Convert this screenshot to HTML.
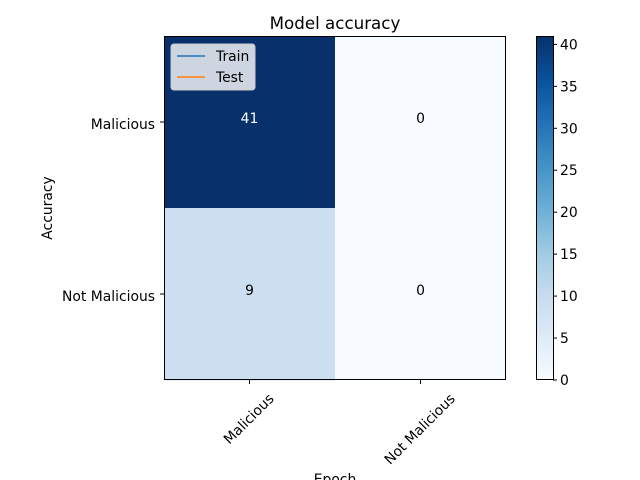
<!DOCTYPE html>
<html><head><meta charset="utf-8">
<style>
body{margin:0;background:#fff;}
svg{display:block;font-family:"DejaVu Sans","Liberation Sans",sans-serif;}
</style></head>
<body>
<svg id="chart" width="640" height="480" viewBox="0 0 640 480">
<rect width="640" height="480" fill="#fff"/>
<defs>
<linearGradient id="cbgrad" x1="0" y1="1" x2="0" y2="0">
<stop offset="0" stop-color="#f7fbff"/>
<stop offset="0.125" stop-color="#deebf7"/>
<stop offset="0.25" stop-color="#c6dbef"/>
<stop offset="0.375" stop-color="#9ecae1"/>
<stop offset="0.5" stop-color="#6baed6"/>
<stop offset="0.625" stop-color="#4292c6"/>
<stop offset="0.75" stop-color="#2171b5"/>
<stop offset="0.875" stop-color="#08519c"/>
<stop offset="1" stop-color="#08306b"/>
</linearGradient>
</defs>
<g id="cells"></g>
<rect x="164.5" y="36.5" width="341" height="343" fill="none" stroke="#000" stroke-width="1"/>
<g id="ticks"></g>
<text x="335" y="29" font-size="16.7" text-anchor="middle">Model accuracy</text>
<text x="335" y="484" font-size="13.9" text-anchor="middle">Epoch</text>
<text transform="translate(52,208) rotate(-90)" font-size="13.9" text-anchor="middle">Accuracy</text>
<g>
<rect x="171" y="44" width="84" height="46" rx="3" fill="#fff" fill-opacity="0.8" stroke="#ccc"/>
<line x1="177" y1="56" x2="205" y2="56" stroke="#1f77b4" stroke-width="1.5"/>
<text x="216" y="61" font-size="13.9">Train</text>
<line x1="177" y1="77" x2="205" y2="77" stroke="#ff7f0e" stroke-width="1.5"/>
<text x="216" y="82" font-size="13.9">Test</text>
</g>
<rect x="536" y="36" width="17" height="344" fill="url(#cbgrad)"/>
<rect x="536.5" y="36.5" width="17" height="343" fill="none" stroke="#000"/>
<g id="cbticks"></g>
</svg>
<script>
const rowLabels = ["Malicious", "Not Malicious"];
const colLabels = ["Malicious", "Not Malicious"];
const cellValues = [[41, 0], [9, 0]];
const cbTicks = [0, 5, 10, 15, 20, 25, 30, 35, 40];
const cbMax = 41;

const NS = "http://www.w3.org/2000/svg";
const X0 = 164, Y0 = 36, W = 342, H = 344;
const cw = W / colLabels.length, ch = H / rowLabels.length;
const stops = [[247,251,255],[222,235,247],[198,219,239],[158,202,225],[107,174,214],[66,146,198],[33,113,181],[8,81,156],[8,48,107]];
function color(v){
  let t = Math.max(0, Math.min(1, v / cbMax)) * (stops.length - 1);
  let i = Math.min(Math.floor(t), stops.length - 2), f = t - i;
  const c = stops[i].map((a, k) => Math.round(a + (stops[i+1][k] - a) * f));
  return "rgb(" + c.join(",") + ")";
}
function mk(tag, attrs, parent){
  const e = document.createElementNS(NS, tag);
  for (const k in attrs) e.setAttribute(k, attrs[k]);
  parent.appendChild(e); return e;
}
const cells = document.getElementById("cells");
const ticks = document.getElementById("ticks");
const thresh = cbMax / 2;
for (let r = 0; r < rowLabels.length; r++) {
  for (let c = 0; c < colLabels.length; c++) {
    const v = cellValues[r][c];
    const rect = mk("rect", {x: X0 + c * cw, y: Y0 + r * ch, width: cw + 0.5, height: ch + 0.5, fill: color(v)}, cells);
    
    
    const t = mk("text", {x: X0 + (c + 0.5) * cw, y: Y0 + (r + 0.5) * ch + 1, "font-size": 13.9, "text-anchor": "middle", fill: v > thresh ? "#fff" : "#000"}, cells);
    t.textContent = v;
    
    
  }
}
rowLabels.forEach((lab, i) => {
  const y = Y0 + (i + 0.5) * ch;
  mk("line", {x1: X0 - 4, y1: y, x2: X0, y2: y, stroke: "#000"}, ticks);
  const t = mk("text", {x: X0 - 9, y: y + 7, "font-size": 13.9, "text-anchor": "end"}, ticks);
  t.textContent = lab;
  
  
});
colLabels.forEach((lab, i) => {
  const x = X0 + (i + 0.5) * cw;
  mk("line", {x1: x, y1: Y0 + H, x2: x, y2: Y0 + H + 4, stroke: "#000"}, ticks);
  const t = mk("text", {"font-size": 13.9, "text-anchor": "middle"}, ticks);
  t.textContent = lab;
  
  
  const len = t.getComputedTextLength();
  const cy = 391 + (len + 14) * 0.7071 / 2;
  t.setAttribute("transform", "translate(" + (x - 1) + "," + cy + ") rotate(-45) translate(0,5)");
});
const cbt = document.getElementById("cbticks");
cbTicks.forEach(v => {
  const y = 380 - v / cbMax * 344;
  mk("line", {x1: 553, y1: y, x2: 557, y2: y, stroke: "#000"}, cbt);
  const t = mk("text", {x: 560, y: y + 5, "font-size": 13.9}, cbt);
  t.textContent = v;
  
  
});
</script>
</body></html>
